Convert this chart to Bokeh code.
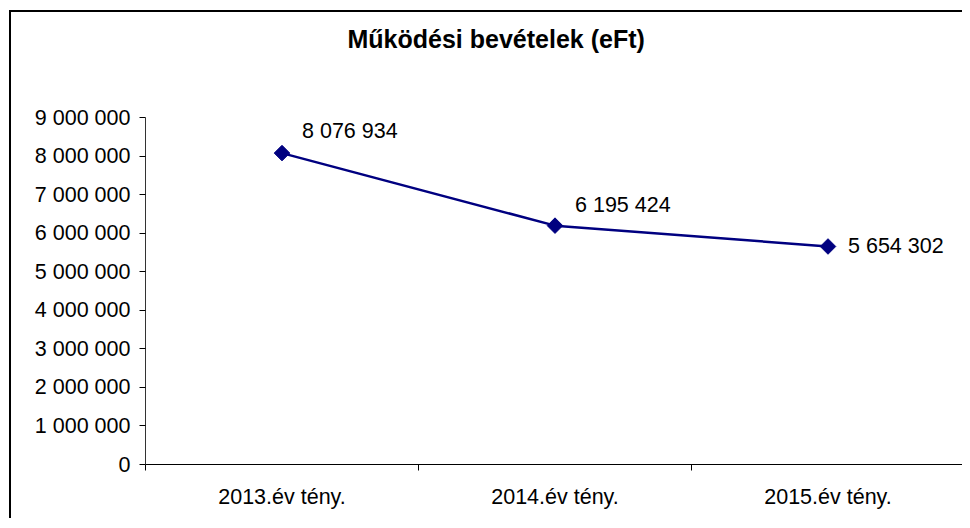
from bokeh.plotting import figure
from bokeh.models import Range1d, FixedTicker, ColumnDataSource, Title
from bokeh.core.properties import value
from bokeh.embed import file_html
from bokeh.resources import INLINE
import math

title_text = "Működési bevételek (eFt)"
categories = ["2013.év tény.", "2014.év tény.", "2015.év tény."]
revenues = [8076934, 6195424, 5654302]
value_labels = ["8 076 934", "6 195 424", "5 654 302"]
y_ticks = [0, 1000000, 2000000, 3000000, 4000000, 5000000, 6000000, 7000000, 8000000, 9000000]
y_tick_labels = ["0", "1 000 000", "2 000 000", "3 000 000", "4 000 000",
                 "5 000 000", "6 000 000", "7 000 000", "8 000 000", "9 000 000"]

# label placement (styles)
label_dx = [20, 20, 20]
label_dy = [-22, -21, 0]

FONT = "Liberation Sans"
xs = [i + 0.5 for i in range(len(categories))]

src = ColumnDataSource(dict(x=xs, y=revenues, lab=value_labels, dx=label_dx, dy=label_dy))

p = figure(width=953, height=508, output_backend="svg", toolbar_location=None,
           title_location=None,
           x_range=Range1d(0, len(categories)), y_range=Range1d(0, 9000000),
           min_border_left=134, min_border_right=0, min_border_top=105, min_border_bottom=56)
p.styles = {"border-left": "2px solid #000", "border-top": "2px solid #000",
            "margin-left": "9px", "margin-top": "10px"}

# spacer panel between frame and title
p.add_layout(Title(text=" ", text_font_size="2px", standoff=56), "above")
p.add_layout(Title(text=title_text, align="left", offset=202,
                   text_font=FONT, text_font_size="25px", text_font_style="bold",
                   text_color="#000"), "above")

p.outline_line_color = None
p.xgrid.visible = False
p.ygrid.visible = False

# y axis
p.yaxis.ticker = FixedTicker(ticks=y_ticks, minor_ticks=[])
p.yaxis.major_label_overrides = {t: l for t, l in zip(y_ticks, y_tick_labels)}
p.yaxis.major_label_text_font = FONT
p.yaxis.major_label_text_font_size = "21.5px"
p.yaxis.major_label_text_color = "#000"
p.yaxis.major_label_standoff = 9
p.yaxis.major_tick_out = 6
p.yaxis.major_tick_in = 0
p.yaxis.minor_tick_line_color = None
p.yaxis.axis_line_color = "#333"
p.yaxis.major_tick_line_color = "#000"

# x axis: labels at centers, tick marks at boundaries
p.xaxis.ticker = FixedTicker(ticks=xs, minor_ticks=list(range(len(categories) + 1)))
p.xaxis.major_label_overrides = {x: c for x, c in zip(xs, categories)}
p.xaxis.major_label_text_font = FONT
p.xaxis.major_label_text_font_size = "21.5px"
p.xaxis.major_label_text_color = "#000"
p.xaxis.major_label_standoff = 14
p.xaxis.major_tick_out = 0
p.xaxis.major_tick_in = 0
p.xaxis.minor_tick_out = 6
p.xaxis.minor_tick_in = 0
p.xaxis.minor_tick_line_color = "#000"
p.xaxis.axis_line_color = "#000"

p.line("x", "y", source=src, line_color="#000080", line_width=2.5)
p.scatter("x", "y", source=src, marker="square", angle=math.pi / 4, size=11,
          fill_color="#000080", line_color="#000080")
p.text("x", "y", text="lab", source=src, x_offset="dx", y_offset="dy",
       text_font=value(FONT), text_font_size="21.5px", text_color="#000",
       text_align="left", text_baseline="middle")

open("out.html", "w").write(file_html(p, INLINE))
